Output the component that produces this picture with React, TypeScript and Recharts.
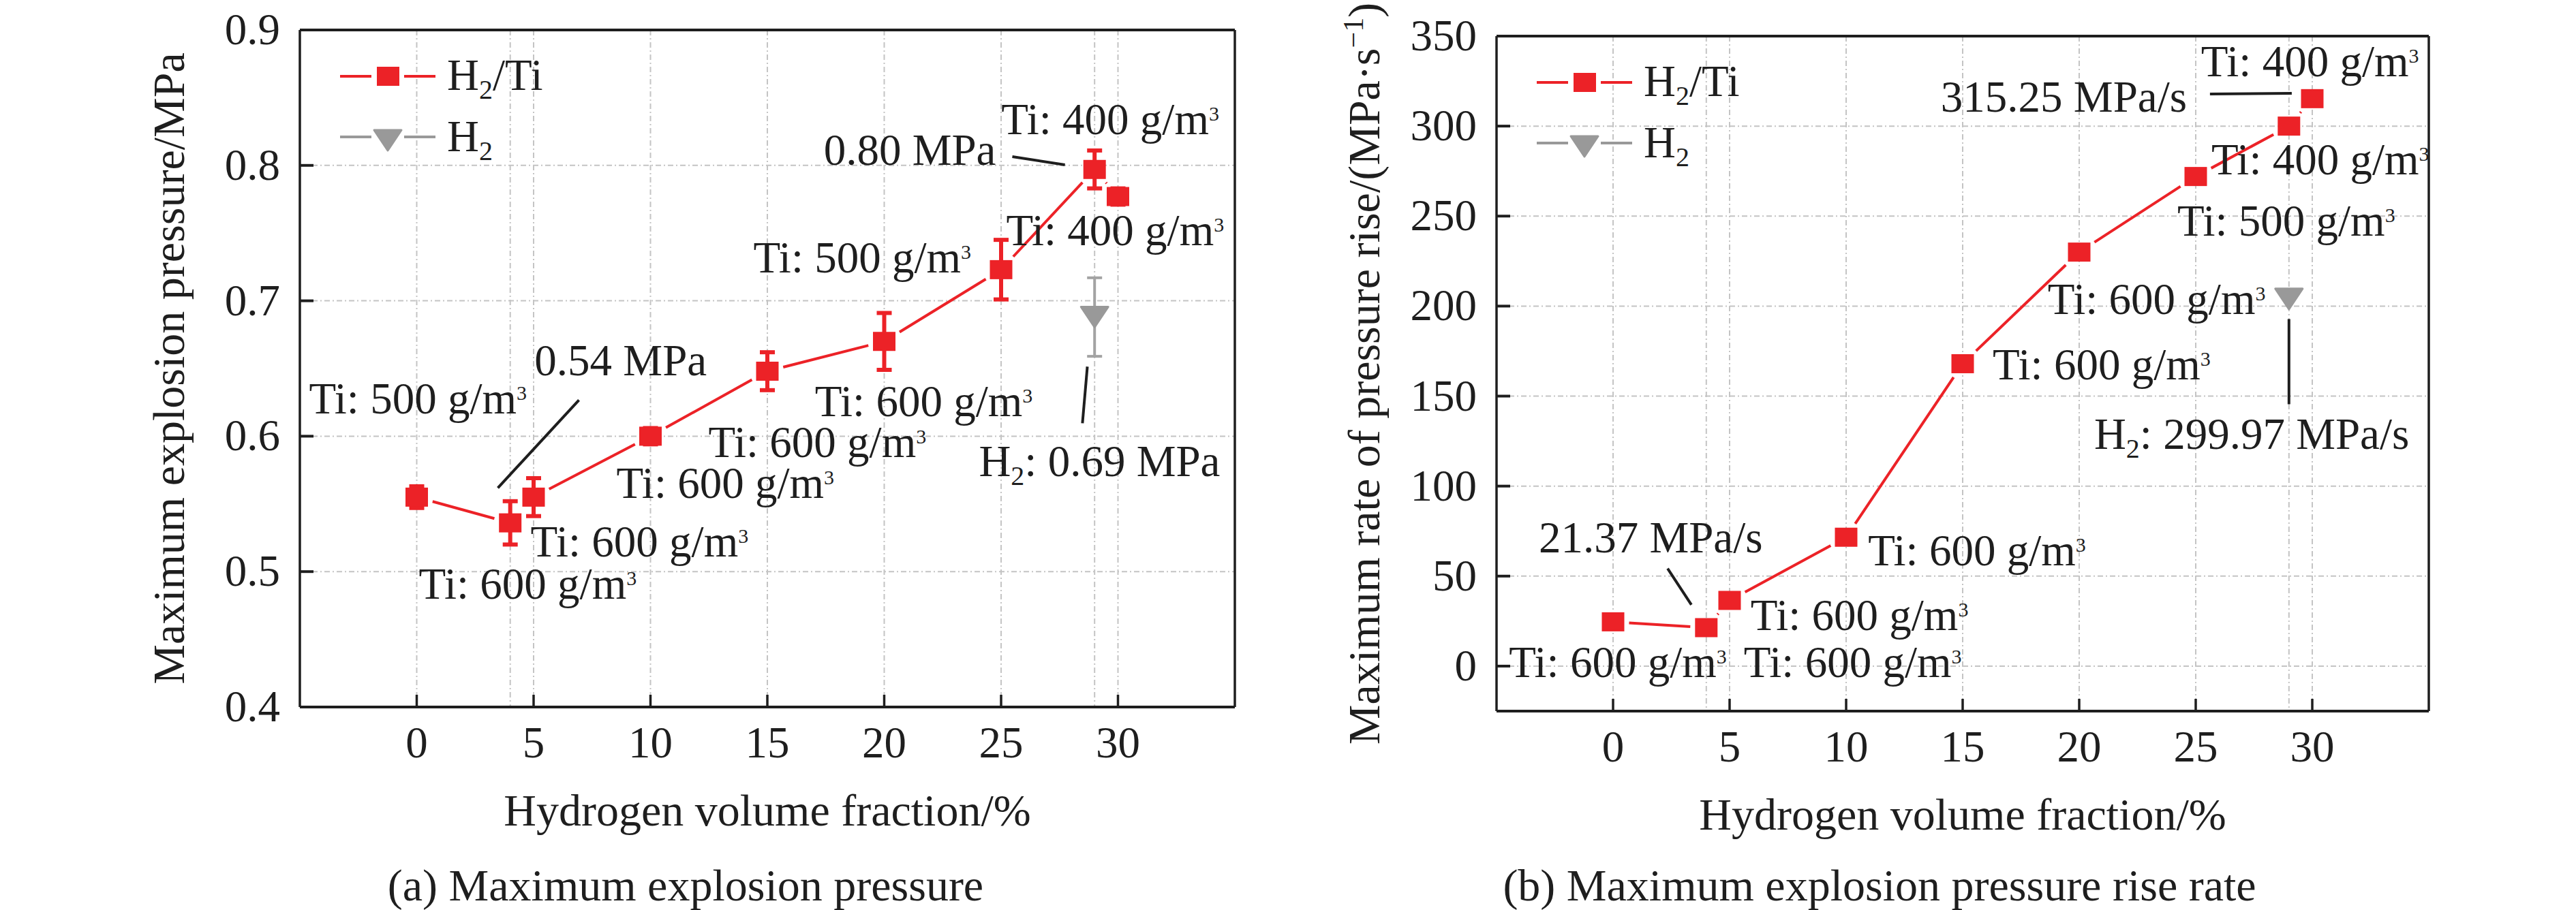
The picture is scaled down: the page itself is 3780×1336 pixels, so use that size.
import React from 'react';
import {
  ScatterChart,
  Scatter,
  XAxis,
  YAxis,
  CartesianGrid,
  ErrorBar,
  ReferenceLine,
  ReferenceDot,
  Legend,
  Label,
} from 'recharts';

// ---------------- data ----------------
const hydrogenFraction = [0, 4, 5, 10, 15, 20, 25, 29, 30];
const pmaxH2Ti = [0.555, 0.536, 0.555, 0.6, 0.648, 0.67, 0.723, 0.797, 0.777];
const pmaxErrH2Ti = [0.008, 0.016, 0.014, 0.006, 0.014, 0.021, 0.022, 0.014, 0.006];
const h2Fraction = [29];
const pmaxH2 = [0.688];
const pmaxErrH2 = [0.029];
const rateH2Ti = [24.6, 21.37, 36.5, 71.6, 168, 230, 272, 300, 315.25];
const rateH2 = [204];

const xTicks = [0, 5, 10, 15, 20, 25, 30];
const xGridValues = [0, 4, 5, 10, 15, 20, 25, 29, 30];
const pTicks = [0.4, 0.5, 0.6, 0.7, 0.8, 0.9];
const pGridValues = [0.5, 0.6, 0.7, 0.8];
const rTicks = [0, 50, 100, 150, 200, 250, 300, 350];
const rGridValues = [0, 50, 100, 150, 200, 250, 300];

type Ann = { x: number; y: number; pre?: string; sub?: string; text: string; sup?: string };

const annP: Ann[] = [
  { x: -4.61, y: 0.6167, text: 'Ti: 500 g/m', sup: '3' },
  { x: 5.04, y: 0.6448, text: '0.54 MPa' },
  { x: 0.09, y: 0.4798, text: 'Ti: 600 g/m', sup: '3' },
  { x: 4.87, y: 0.511, text: 'Ti: 600 g/m', sup: '3' },
  { x: 8.54, y: 0.5545, text: 'Ti: 600 g/m', sup: '3' },
  { x: 12.48, y: 0.5845, text: 'Ti: 600 g/m', sup: '3' },
  { x: 17.03, y: 0.6148, text: 'Ti: 600 g/m', sup: '3' },
  { x: 14.4, y: 0.7208, text: 'Ti: 500 g/m', sup: '3' },
  { x: 25.22, y: 0.741, text: 'Ti: 400 g/m', sup: '3' },
  { x: 25.01, y: 0.823, text: 'Ti: 400 g/m', sup: '3' },
  { x: 17.41, y: 0.8004, text: '0.80 MPa' },
  { x: 24.05, y: 0.5704, pre: 'H', sub: '2', text: ': 0.69 MPa' },
];
const leadP = [
  [[6.94, 0.6267], [3.47, 0.5618]],
  [[25.48, 0.8064], [27.73, 0.8004]],
  [[28.69, 0.6514], [28.48, 0.6096]],
];

const annR: Ann[] = [
  { x: 25.23, y: 327.7, text: 'Ti: 400 g/m', sup: '3' },
  { x: 14.06, y: 308, text: '315.25 MPa/s' },
  { x: 25.67, y: 273.1, text: 'Ti: 400 g/m', sup: '3' },
  { x: 24.21, y: 239, text: 'Ti: 500 g/m', sup: '3' },
  { x: 18.65, y: 195.5, text: 'Ti: 600 g/m', sup: '3' },
  { x: 16.29, y: 159.1, text: 'Ti: 600 g/m', sup: '3' },
  { x: 20.64, y: 120.8, pre: 'H', sub: '2', text: ': 299.97 MPa/s' },
  { x: -3.19, y: 63.3, text: '21.37 MPa/s' },
  { x: 10.94, y: 56.1, text: 'Ti: 600 g/m', sup: '3' },
  { x: 5.9, y: 20.1, text: 'Ti: 600 g/m', sup: '3' },
  { x: -4.47, y: -6.1, text: 'Ti: 600 g/m', sup: '3' },
  { x: 5.61, y: -6.1, text: 'Ti: 600 g/m', sup: '3' },
];
const leadR = [
  [[25.61, 317.8], [29.12, 318.2]],
  [[29.0, 192.8], [29.0, 145.5]],
  [[2.34, 54.2], [3.36, 34.1]],
];

// ---------------- style ----------------
const FONT = '"Liberation Serif", "Times New Roman", Times, serif';
const RED = '#EC2227';
const GRAY = '#999999';
const INK = '#1e1e1e';
const GRID = '#c4c4c4';
const FS = 65;
const W = 1890;
const H = 1336;
const MW = 33;
const MH = 28;

function RichText({ x, y, a }: { x: number; y: number; a: Ann }) {
  return (
    <text x={x} y={y} fontFamily={FONT} fontSize={FS} fill={INK}>
      {a.pre}
      {a.sub ? (
        <tspan dy={13} fontSize={40}>
          {a.sub}
        </tspan>
      ) : null}
      {a.sub ? <tspan dy={-13}>{a.text}</tspan> : a.text}
      {a.sup ? (
        <tspan dy={-20} fontSize={30}>
          {a.sup}
        </tspan>
      ) : null}
    </text>
  );
}

const XTick = (props: any) => {
  const { x, y, payload } = props;
  return (
    <g>
      <line x1={x} x2={x} y1={y} y2={y - 18} stroke={INK} strokeWidth={3.5} />
      <text x={x} y={y + 74} textAnchor="middle" fontFamily={FONT} fontSize={FS} fill={INK}>
        {payload.value}
      </text>
    </g>
  );
};

const makeYTick = (dec: number) => (props: any) => {
  const { x, y, payload } = props;
  return (
    <g>
      <line x1={x} x2={x + 20} y1={y} y2={y} stroke={INK} strokeWidth={4} />
      <text x={x - 29} y={y + 21} textAnchor="end" fontFamily={FONT} fontSize={FS} fill={INK}>
        {Number(payload.value).toFixed(dec)}
      </text>
    </g>
  );
};

const square = (p: any) => (
  <rect x={p.cx - MW / 2} y={p.cy - MH / 2} width={MW} height={MH} fill={RED} />
);
const triangle = (p: any) => (
  <polygon
    points={`${p.cx - 20},${p.cy - 15} ${p.cx + 20},${p.cy - 15} ${p.cx},${p.cy + 15}`}
    fill={GRAY}
    stroke={GRAY}
    strokeWidth={3}
    strokeLinejoin="round"
  />
);

// connecting line drawn from the library's computed points, leaving a small gap around each marker
const GAP = 7;
const gapLine = (props: any) => {
  const pts: { x: number; y: number }[] = (props.points || []).map((p: any) => ({
    x: p.x ?? p.cx,
    y: p.y ?? p.cy,
  }));
  const segs: React.ReactNode[] = [];
  for (let i = 0; i < pts.length - 1; i++) {
    const a = pts[i];
    const b = pts[i + 1];
    const dx = b.x - a.x;
    const dy = b.y - a.y;
    const len = Math.hypot(dx, dy);
    if (!len) continue;
    const ux = dx / len;
    const uy = dy / len;
    const edge = Math.min(
      Math.abs(ux) > 1e-6 ? MW / 2 / Math.abs(ux) : Infinity,
      Math.abs(uy) > 1e-6 ? MH / 2 / Math.abs(uy) : Infinity,
    );
    const cut = edge + GAP;
    if (len <= 2 * cut) continue;
    segs.push(
      <line
        key={i}
        x1={a.x + ux * cut}
        y1={a.y + uy * cut}
        x2={b.x - ux * cut}
        y2={b.y - uy * cut}
        stroke={RED}
        strokeWidth={4}
      />,
    );
  }
  return <g>{segs}</g>;
};

const LegendBox = () => (
  <svg width={420} height={200} style={{ display: 'block' }}>
    <line x1={4} x2={50} y1={48} y2={48} stroke={RED} strokeWidth={4} />
    <line x1={98} x2={144} y1={48} y2={48} stroke={RED} strokeWidth={4} />
    <rect x={58} y={34} width={33} height={28} fill={RED} />
    <text x={161} y={68} fontFamily={FONT} fontSize={FS} fill={INK}>
      H<tspan dy={13} fontSize={40}>2</tspan>
      <tspan dy={-13}>/Ti</tspan>
    </text>
    <line x1={4} x2={50} y1={137} y2={137} stroke={GRAY} strokeWidth={4} />
    <line x1={98} x2={144} y1={137} y2={137} stroke={GRAY} strokeWidth={4} />
    <polygon points="54,127 94,127 74,157" fill={GRAY} stroke={GRAY} strokeWidth={3} strokeLinejoin="round" />
    <text x={161} y={158} fontFamily={FONT} fontSize={FS} fill={INK}>
      H<tspan dy={13} fontSize={40}>2</tspan>
    </text>
  </svg>
);

type PanelProps = {
  pageLeft: number;
  plot: { l: number; r: number; t: number; b: number };
  yDomain: [number, number];
  yTicks: number[];
  yGrid: number[];
  dec: number;
  main: { x: number; y: number; err?: number }[];
  h2: { x: number; y: number; err?: number }[];
  withErr: boolean;
  anns: Ann[];
  leads: number[][][];
  yTitle: React.ReactNode;
  yTitleX: number;
  caption: string;
  captionX: number;
};

function Panel(pp: PanelProps) {
  const { plot } = pp;
  const YW = 40;
  const XH = 40;
  const margin = { top: plot.t, left: plot.l - YW, right: W - plot.r, bottom: H - plot.b - XH };
  const midX = (plot.l + plot.r) / 2;
  const midY = (plot.t + plot.b) / 2;
  const YTick = makeYTick(pp.dec);
  return (
    <div style={{ position: 'absolute', left: pp.pageLeft, top: 0, width: W, height: H }}>
      <ScatterChart width={W} height={H} margin={margin}>
        <CartesianGrid
          stroke={GRID}
          strokeWidth={2}
          strokeDasharray="8 4 2 4"
          verticalValues={xGridValues}
          horizontalValues={pp.yGrid}
        />
        <XAxis
          dataKey="x"
          type="number"
          domain={[-5, 35]}
          ticks={xTicks}
          interval={0}
          allowDataOverflow
          height={XH}
          tickLine={false}
          tickSize={0}
          tickMargin={0}
          axisLine={{ stroke: INK, strokeWidth: 4 }}
          tick={<XTick />}
        >
          <Label
            content={() => (
              <g>
                <text x={midX} y={plot.b + 174} textAnchor="middle" fontFamily={FONT} fontSize={66} fill={INK}>
                  Hydrogen volume fraction/%
                </text>
                <text x={pp.captionX} y={1322} textAnchor="middle" fontFamily={FONT} fontSize={66} fill={INK}>
                  {pp.caption}
                </text>
              </g>
            )}
          />
        </XAxis>
        <YAxis
          dataKey="y"
          type="number"
          domain={pp.yDomain}
          ticks={pp.yTicks}
          interval={0}
          allowDataOverflow
          width={YW}
          tickLine={false}
          tickSize={0}
          tickMargin={0}
          axisLine={{ stroke: INK, strokeWidth: 3.5 }}
          tick={<YTick />}
        >
          <Label
            content={() => (
              <text
                x={pp.yTitleX}
                y={midY}
                transform={`rotate(-90, ${pp.yTitleX}, ${midY})`}
                textAnchor="middle"
                fontFamily={FONT}
                fontSize={66}
                fill={INK}
              >
                {pp.yTitle}
              </text>
            )}
          />
        </YAxis>
        <ReferenceLine y={pp.yDomain[1]} stroke={INK} strokeWidth={4} ifOverflow="visible" />
        <ReferenceLine x={35} stroke={INK} strokeWidth={3.5} ifOverflow="visible" />
        {pp.leads.map((s, i) => (
          <ReferenceLine
            key={'l' + i}
            segment={[
              { x: s[0][0], y: s[0][1] },
              { x: s[1][0], y: s[1][1] },
            ]}
            stroke={INK}
            strokeWidth={4}
            ifOverflow="visible"
          />
        ))}
        <Scatter
          name="H2/Ti"
          data={pp.main}
          fill={RED}
          line={gapLine}
          lineType="joint"
          shape={square}
          isAnimationActive={false}
        >
          {pp.withErr ? (
            <ErrorBar dataKey="err" direction="y" width={11} strokeWidth={6} stroke={RED} isAnimationActive={false} />
          ) : null}
        </Scatter>
        <Scatter name="H2" data={pp.h2} fill={GRAY} shape={triangle} isAnimationActive={false}>
          {pp.withErr ? (
            <ErrorBar dataKey="err" direction="y" width={11} strokeWidth={4} stroke="#a3a3a3" isAnimationActive={false} />
          ) : null}
        </Scatter>
        {pp.anns.map((a, i) => (
          <ReferenceDot
            key={'a' + i}
            x={a.x}
            y={a.y}
            r={1}
            ifOverflow="visible"
            shape={(p: any) => <RichText x={p.cx} y={p.cy} a={a} />}
          />
        ))}
        <Legend
          layout="horizontal"
          verticalAlign="middle"
          align="center"
          content={() => <LegendBox />}
          wrapperStyle={{ position: 'absolute', left: plot.l + 55, top: plot.t + 20, width: 420, height: 200 }}
        />
      </ScatterChart>
    </div>
  );
}

const dataP = hydrogenFraction.map((x, i) => ({ x, y: pmaxH2Ti[i], err: pmaxErrH2Ti[i] }));
const dataPH2 = h2Fraction.map((x, i) => ({ x, y: pmaxH2[i], err: pmaxErrH2[i] }));
const dataR = hydrogenFraction.map((x, i) => ({ x, y: rateH2Ti[i] }));
const dataRH2 = h2Fraction.map((x, i) => ({ x, y: rateH2[i] }));

export default function App() {
  return (
    <div style={{ position: 'relative', width: 3780, height: 1336, background: '#fff', overflow: 'hidden' }}>
      <style>{'body{margin:0;background:#fff}'}</style>
      <Panel
        pageLeft={0}
        plot={{ l: 440, r: 1812, t: 44, b: 1038 }}
        yDomain={[0.4, 0.9]}
        yTicks={pTicks}
        yGrid={pGridValues}
        dec={1}
        main={dataP}
        h2={dataPH2}
        withErr={true}
        anns={annP}
        leads={leadP}
        yTitle="Maximum explosion pressure/MPa"
        yTitleX={270}
        caption="(a) Maximum explosion pressure"
        captionX={1006}
      />
      <Panel
        pageLeft={1890}
        plot={{ l: 306, r: 1674, t: 53, b: 1044 }}
        yDomain={[-25, 350]}
        yTicks={rTicks}
        yGrid={rGridValues}
        dec={0}
        main={dataR}
        h2={dataRH2}
        withErr={false}
        anns={annR}
        leads={leadR}
        yTitle={
          <>
            Maximum rate of pressure rise/(MPa·s
            <tspan dy={-24} fontSize={42}>
              −1
            </tspan>
            <tspan dy={24}>)</tspan>
          </>
        }
        yTitleX={134}
        caption="(b) Maximum explosion pressure rise rate"
        captionX={868}
      />
    </div>
  );
}
